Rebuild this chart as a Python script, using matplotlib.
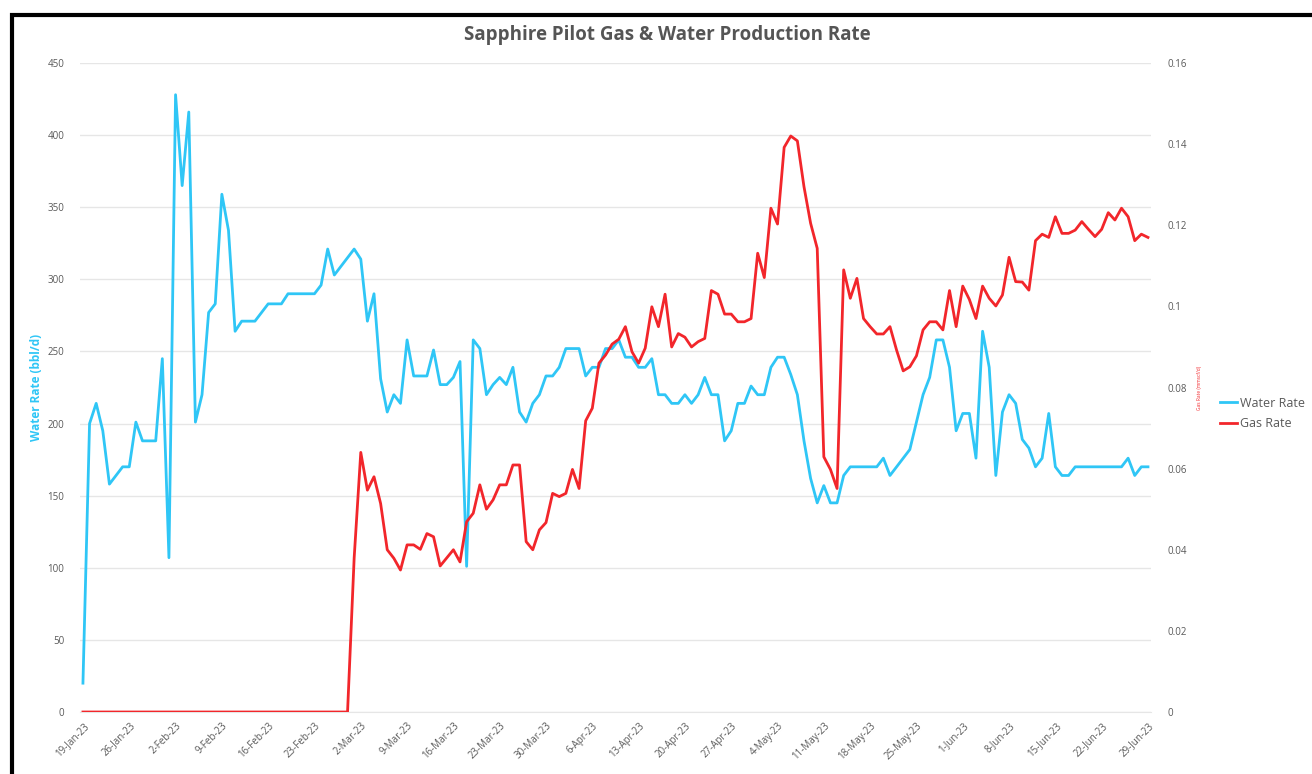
import numpy as np
import pandas as pd
import matplotlib
matplotlib.use("Agg")
from matplotlib import pyplot as plt
from matplotlib.patches import Rectangle
from matplotlib.ticker import FuncFormatter

plt.rcParams['font.family'] = ['Open Sans', 'DejaVu Sans']

# daily readings from 19-Jan-23 to 29-Jun-23
dates = pd.date_range("2023-01-19", "2023-06-29", freq="D")

water_rate = [
    20, 200, 214, 195, 158, 164, 170, 170, 201, 188, 188, 188, 245, 107, 428, 365,
    416, 201, 220, 277, 283, 359, 334, 264, 271, 271, 271, 277, 283, 283, 283, 290,
    290, 290, 290, 290, 296, 321, 303, 309, 315, 321, 314, 271, 290, 231, 208, 220,
    214, 258, 233, 233, 233, 251, 227, 227, 232, 243, 101, 258, 252, 220, 227, 232,
    227, 239, 208, 201, 214, 220, 233, 233, 239, 252, 252, 252, 233, 239, 239, 252,
    252, 258, 246, 246, 239, 239, 245, 220, 220, 214, 214, 220, 214, 220, 232, 220,
    220, 188, 195, 214, 214, 226, 220, 220, 239, 246, 246, 234, 220, 188, 162, 145,
    157, 145, 145, 164, 170, 170, 170, 170, 170, 176, 164, 170, 176, 182, 201, 220,
    232, 258, 258, 239, 195, 207, 207, 176, 264, 239, 164, 208, 220, 214, 189, 183,
    170, 176, 207, 170, 164, 164, 170, 170, 170, 170, 170, 170, 170, 170, 176, 164,
    170, 170,
]

gas_rate = [0.0] * 41 + [
    0.038, 0.064, 0.0547, 0.058, 0.0514, 0.040, 0.0379, 0.035, 0.0412, 0.0412,
    0.0401, 0.044, 0.0432, 0.036, 0.038, 0.040, 0.037, 0.0469, 0.049, 0.056,
    0.050, 0.0523, 0.056, 0.056, 0.0609, 0.0609, 0.042, 0.040, 0.0449, 0.0467,
    0.0539, 0.0531, 0.0539, 0.0598, 0.0551, 0.0718, 0.0749, 0.086, 0.088, 0.0907,
    0.0919, 0.095, 0.0888, 0.086, 0.0897, 0.0999, 0.095, 0.103, 0.090, 0.0933,
    0.0924, 0.090, 0.0913, 0.0921, 0.1039, 0.103, 0.0981, 0.0981, 0.0962, 0.0962,
    0.097, 0.1131, 0.1071, 0.1242, 0.1203, 0.1392, 0.142, 0.1408, 0.1295, 0.1205,
    0.1143, 0.0629, 0.0598, 0.0551, 0.109, 0.102, 0.1069, 0.097, 0.095, 0.0932,
    0.0932, 0.095, 0.0892, 0.0841, 0.0851, 0.0878, 0.0942, 0.0962, 0.0962, 0.0942,
    0.1039, 0.095, 0.105, 0.1017, 0.097, 0.105, 0.102, 0.1001, 0.1028, 0.1121,
    0.1061, 0.106, 0.104, 0.1162, 0.1178, 0.117, 0.1221, 0.118, 0.118, 0.1188,
    0.1209, 0.119, 0.1172, 0.119, 0.1231, 0.1213, 0.1242, 0.1221, 0.1162, 0.1178,
    0.117,
]

water_color = "#2FC6F6"
gas_color = "#F2262B"
text_color = "#595959"

fig = plt.figure(figsize=(13.12, 7.74), dpi=100)
ax = fig.add_axes([0.0607, 0.0801, 0.8168, 0.8385])
ax2 = ax.twinx()

ax.plot(dates, water_rate, color=water_color, lw=2, label="Water Rate")
ax2.plot(dates, gas_rate, color=gas_color, lw=2, label="Gas Rate")

ax.set_xlim(dates[0] - pd.Timedelta(hours=12), dates[-1] + pd.Timedelta(hours=12))
ax.set_ylim(0, 450)
ax.set_yticks(np.arange(0, 451, 50))
ax2.set_ylim(0, 0.16)
ax2.set_yticks(np.arange(0, 0.161, 0.02))
ax2.yaxis.set_major_formatter(FuncFormatter(lambda v, p: "0" if v == 0 else f"{v:g}"))

week_ticks = dates[::7]
ax.set_xticks(week_ticks)
ax.set_xticklabels([f"{d.day}-{d.strftime('%b-%y')}" for d in week_ticks],
                   rotation=45, ha="right", rotation_mode="anchor")

ax.grid(axis="y", color="#E6E6E6", lw=1)
ax.set_axisbelow(True)
for a in (ax, ax2):
    for s in a.spines.values():
        s.set_visible(False)
ax.spines["bottom"].set_visible(True)
ax.spines["bottom"].set_color("#E6E6E6")
ax.tick_params(axis="both", length=0, labelsize=7, colors=text_color)
ax.tick_params(axis="y", pad=11)
ax.tick_params(axis="x", pad=6)
ax2.tick_params(axis="y", length=0, labelsize=7, colors=text_color, pad=12)

ax.set_ylabel("Water Rate (bbl/d)", color=water_color, fontsize=8.5, fontweight="bold", labelpad=3)
ax2.set_ylabel("Gas Rate (mmscf/d)", color=gas_color, fontsize=3.5, labelpad=7)

fig.suptitle("Sapphire Pilot Gas & Water Production Rate", x=0.509, y=0.968,
             fontsize=13.5, fontweight="bold", color="#555555")

handles = ax.get_lines() + ax2.get_lines()
fig.legend(handles, [h.get_label() for h in handles], loc="center left",
           bbox_to_anchor=(0.921, 0.466), frameon=False, fontsize=9,
           labelcolor=text_color, handlelength=1.4, handletextpad=0.2,
           labelspacing=0.6)

# black frame around the chart (clipped on right and bottom)
fig.patches.append(Rectangle((12 / 1312, -0.1), 1.2, 1 - 15 / 774 + 0.1,
                             transform=fig.transFigure, fill=False,
                             edgecolor="black", lw=3))

fig.savefig("out.png", dpi=100)
